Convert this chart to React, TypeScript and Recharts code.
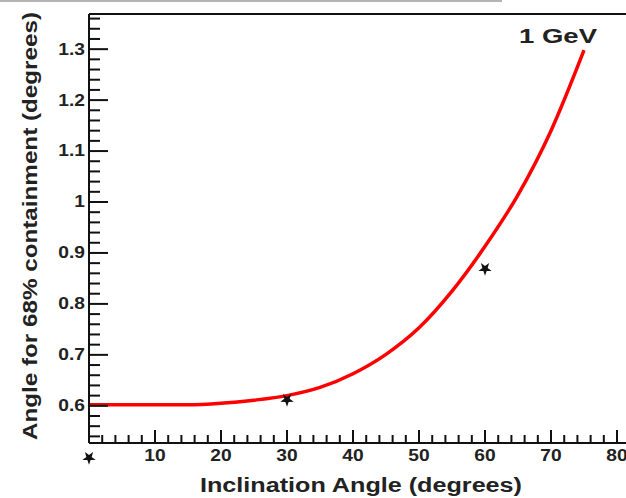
import React from "react";
import { Line, LineChart, ReferenceDot, ReferenceLine, XAxis, YAxis } from "recharts";

// red curve: 68% containment vs inclination
const ANGLES = [0, 5, 10, 15, 20, 25, 30, 35, 40, 45, 50, 55, 60, 65, 70, 75];
const CONTAINMENT = [0.602, 0.602, 0.602, 0.602, 0.605, 0.611, 0.62, 0.636, 0.663, 0.701, 0.753, 0.825, 0.913, 1.014, 1.14, 1.298];
// star markers (measured points)
const STAR_X = [0, 30, 60];
const STAR_Y = [0.498, 0.612, 0.869];

const X_MAJOR = [10, 20, 30, 40, 50, 60, 70, 80];
const Y_MAJOR = [0.6, 0.7, 0.8, 0.9, 1, 1.1, 1.2, 1.3];
const X_DOMAIN: [number, number] = [0, 81.36];
const Y_DOMAIN: [number, number] = [0.527, 1.369];

const INK = "#111";
const RED = "#ff0000";
const FONT = "'Liberation Sans', Arial, Helvetica, sans-serif";

const series = ANGLES.map((a, i) => ({ x: a, y: CONTAINMENT[i] }));

// minor ticks every 0.02 / every 2
const yTicks: number[] = [];
for (let k = 27; k <= 68; k++) yTicks.push(Math.round(k * 2) / 100);
const xTicks: number[] = [];
for (let k = 0; k <= 40; k++) xTicks.push(k * 2);

const isMajor = (v: number, list: number[]) => list.some((m) => Math.abs(m - v) < 1e-6);

// ROOT-ish labels are slightly wider than Liberation Sans
function TickText({ x, y, anchor, children }: { x: number; y: number; anchor: "end" | "middle"; children: React.ReactNode }) {
  return (
    <text
      transform={`translate(${x} ${y}) scale(1.2 1)`}
      textAnchor={anchor}
      dominantBaseline="central"
      fontFamily={FONT}
      fontWeight="bold"
      fontSize={16}
      fill="#222"
    >
      {children}
    </text>
  );
}

function YTick(props: any) {
  const { x, y, payload } = props;
  const v = payload.value as number;
  const major = isMajor(v, Y_MAJOR);
  return (
    <g>
      <line x1={x} x2={x + (major ? 19 : 11)} y1={y} y2={y} stroke={INK} strokeWidth={2} />
      {major && (
        <TickText x={x - 4} y={y} anchor="end">
          {String(Math.round(v * 10) / 10)}
        </TickText>
      )}
    </g>
  );
}

function XTick(props: any) {
  const { x, y, payload } = props;
  const v = payload.value as number;
  const major = isMajor(v, X_MAJOR) || v === 0;
  return (
    <g>
      <line x1={x} x2={x} y1={y} y2={y - (major ? 13 : 8)} stroke={INK} strokeWidth={2} />
      {isMajor(v, X_MAJOR) && (
        <TickText x={x} y={y + 13} anchor="middle">
          {v}
        </TickText>
      )}
    </g>
  );
}

function Star(props: any) {
  const { cx, cy } = props;
  const pts: string[] = [];
  for (let i = 0; i < 10; i++) {
    const r = i % 2 === 0 ? 7 : 2.8;
    const a = Math.PI / 2 + (i * Math.PI) / 5;
    pts.push(`${cx + r * Math.cos(a)},${cy + r * Math.sin(a)}`);
  }
  return <polygon points={pts.join(" ")} fill={INK} />;
}

export default function App() {
  return (
    <div style={{ position: "absolute", left: 0, top: 0, width: 626, height: 498, background: "#fff" }}>
      <div style={{ position: "absolute", left: 0, top: 0, width: 502, height: 2, background: "#b4b4b4" }} />
      <LineChart width={626} height={498} data={series} margin={{ top: 14, right: 0, bottom: 0, left: 0 }}>
        <XAxis
          type="number"
          dataKey="x"
          domain={X_DOMAIN}
          allowDataOverflow
          ticks={xTicks}
          interval={0}
          height={55}
          tickSize={0}
          tickMargin={0}
          tickLine={false}
          axisLine={{ stroke: INK, strokeWidth: 2 }}
          tick={<XTick />}
          label={{
            content: () => (
              <text x={200} y={492} textLength={322} lengthAdjust="spacingAndGlyphs" fontFamily={FONT} fontWeight="bold" fontSize={20} fill="#222">
                Inclination Angle (degrees)
              </text>
            ),
          }}
        />
        <YAxis
          type="number"
          dataKey="y"
          domain={Y_DOMAIN}
          allowDataOverflow
          ticks={yTicks}
          interval={0}
          width={89}
          tickSize={0}
          tickMargin={0}
          tickLine={false}
          axisLine={{ stroke: INK, strokeWidth: 2 }}
          tick={<YTick />}
          label={{
            content: () => (
              <text
                x={37}
                y={440}
                transform="rotate(-90 37 440)"
                textLength={428}
                lengthAdjust="spacingAndGlyphs"
                fontFamily={FONT}
                fontWeight="bold"
                fontSize={20}
                fill="#222"
              >
                Angle for 68% containment (degrees)
              </text>
            ),
          }}
        />
        <ReferenceLine y={Y_DOMAIN[1]} stroke={INK} strokeWidth={2} ifOverflow="visible" />
        <Line type="monotone" dataKey="y" stroke={RED} strokeWidth={3.5} dot={false} isAnimationActive={false} />
        {STAR_X.map((sx, i) => (
          <ReferenceDot key={i} x={sx} y={STAR_Y[i]} r={7} ifOverflow="visible" shape={<Star />} />
        ))}
        <text x={519} y={43} textLength={78} lengthAdjust="spacingAndGlyphs" fontFamily={FONT} fontWeight="bold" fontSize={21} fill="#222">
          1 GeV
        </text>
      </LineChart>
    </div>
  );
}
